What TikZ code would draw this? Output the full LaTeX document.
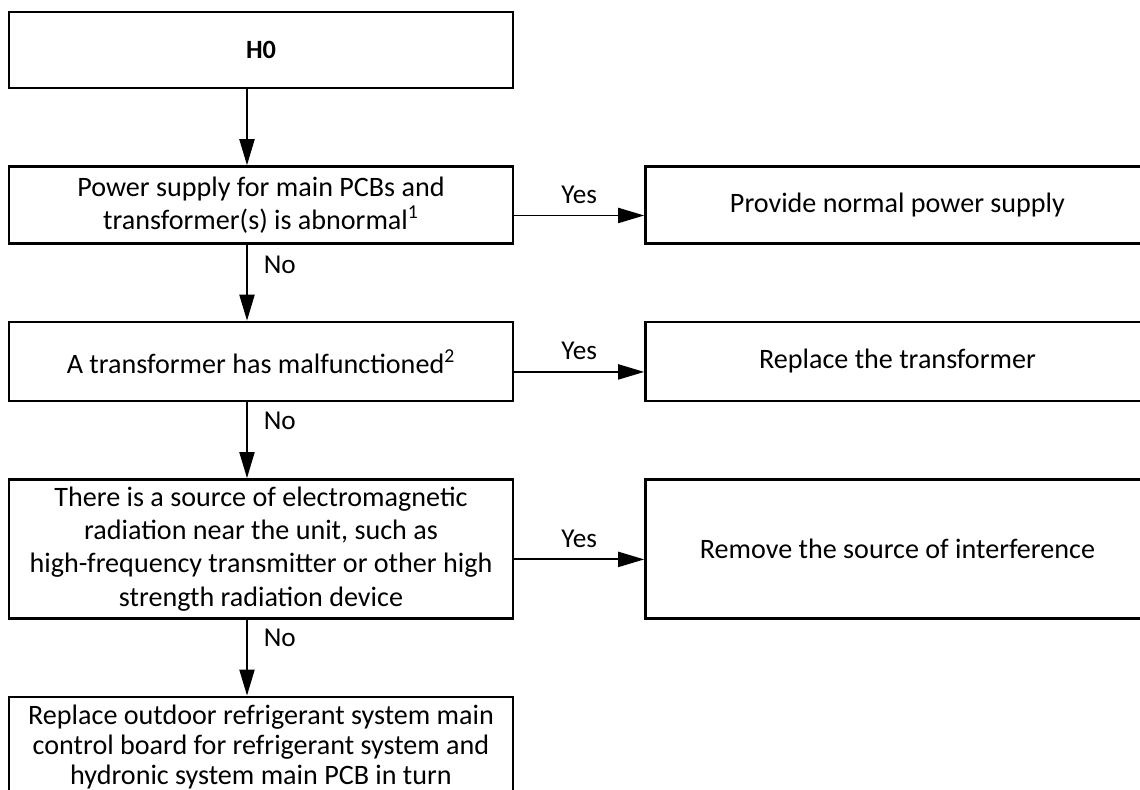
\documentclass[tikz,border=0pt]{standalone}
\usepackage{fontspec}
\setmainfont{Carlito}
\usetikzlibrary{positioning,arrows.meta}
\begin{document}
\begin{tikzpicture}[node distance=1.52cm and 2.6cm,
  box/.style={draw, line width=1.4pt, minimum width=10.08cm, align=center,
    inner sep=0pt, font=\fontsize{16}{19}\selectfont},
  flow/.style={draw, line width=1.1pt, -{Triangle[length=5.2mm,width=3mm]}},
  lbl/.style={font=\fontsize{15.5}{18}\selectfont}]
  \useasboundingbox (0,0) rectangle (22.8,-15.78);
  % left column
  \node[box, minimum height=1.52cm, font=\fontsize{15}{18}\selectfont\bfseries] (h0) at (5.22,-1.0) {H0};
  \node[box, minimum height=1.54cm, below=of h0] (pwr) {Power supply for main PCBs and\\transformer(s) is abnormal\textsuperscript{1}};
  \node[box, minimum height=1.58cm, below=of pwr] (xfm) {A transformer has malfunctioned\textsuperscript{2}};
  \node[box, minimum height=2.78cm, below=of xfm] (emi) {There is a source of electromagnetic\\radiation near the unit, such as\\high-frequency transmitter or other high\\strength radiation device};
  \node[box, minimum height=1.94cm, below=of emi,
    label={[font=\fontsize{16}{17.2}\selectfont, align=center, yshift=-0.3mm]center:Replace outdoor refrigerant system main\\control board for refrigerant system and\\hydronic system main PCB in turn}] (board) {};
  % right column
  \node[box, minimum height=1.54cm, right=of pwr] (psu) {Provide normal power supply};
  \node[box, minimum height=1.58cm, right=of xfm] (rpl) {Replace the transformer};
  \node[box, minimum height=2.78cm, right=of emi] (rmv) {Remove the source of interference};
  % connectors
  \draw[flow] ([xshift=-2.8mm]h0.south) -- ([xshift=-2.8mm]pwr.north);
  \draw[flow] ([xshift=-2.8mm]pwr.south) -- node[lbl, pos=0.27, right=2mm] {No} ([xshift=-2.8mm]xfm.north);
  \draw[flow] ([xshift=-2.8mm]xfm.south) -- node[lbl, pos=0.25, right=2mm] {No} ([xshift=-2.8mm]emi.north);
  \draw[flow] ([xshift=-2.8mm]emi.south) -- node[lbl, pos=0.24, right=2mm] {No} ([xshift=-2.8mm]board.north);
  \draw[flow] ([yshift=-2.1mm]pwr.east) -- node[lbl, above=1mm] {Yes} ([yshift=-2.1mm]psu.west);
  \draw[flow] ([yshift=-2.1mm]xfm.east) -- node[lbl, above=1mm] {Yes} ([yshift=-2.1mm]rpl.west);
  \draw[flow] ([yshift=-2.1mm]emi.east) -- node[lbl, above=1mm] {Yes} ([yshift=-2.1mm]rmv.west);
\end{tikzpicture}
\end{document}
